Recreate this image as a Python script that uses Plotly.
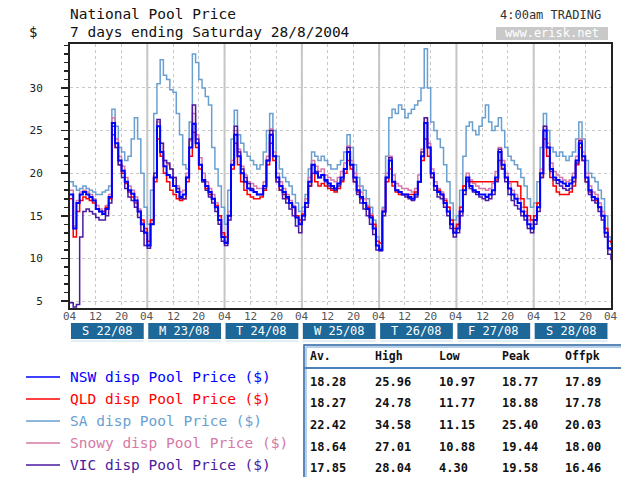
import plotly.graph_objects as go

# ---------------- data ----------------
day_labels = ["S 22/08", "M 23/08", "T 24/08", "W 25/08", "T 26/08", "F 27/08", "S 28/08"]
hour_ticks = ["04", "12", "20"]
y_ticks = [5, 10, 15, 20, 25, 30]
series_names = ["NSW disp Pool Price ($)", "QLD disp Pool Price ($)", "SA disp Pool Price ($)",
                "Snowy disp Pool Price ($)", "VIC disp Pool Price ($)"]
series_colors = ["#0000ff", "#ff0000", "#6a9fd0", "#d47aa6", "#4a1aa0"]

# hourly prices from Sun 22/08 04:00 to Sun 29/08 04:00
nsw = [17.5, 13.5, 16.5, 17.5, 17.8, 17.5, 17.2, 16.8, 15.8, 15.5, 15.2, 15.8, 17.2, 25.9, 23.5, 21.5, 20.3, 19.0, 18.0, 17.6, 16.8, 15.5, 14.0, 13.0,
       11.5, 14.0, 19.5, 25.5, 22.5, 20.8, 19.8, 19.5, 18.5, 17.8, 17.2, 17.5, 19.5, 23.0, 25.8, 23.5, 21.0, 19.2, 18.5, 17.8, 17.0, 16.0, 14.5, 12.5,
       11.8, 15.0, 21.0, 24.5, 22.0, 20.0, 19.0, 18.2, 18.0, 17.8, 17.5, 17.5, 18.5, 21.5, 24.5, 22.0, 19.5, 18.5, 17.8, 17.2, 16.5, 16.0, 14.8, 14.0,
       15.0, 16.5, 19.0, 21.0, 20.0, 19.5, 19.8, 19.2, 18.8, 18.5, 18.2, 18.8, 19.5, 20.5, 22.5, 21.0, 19.5, 18.0, 17.2, 16.5, 15.8, 14.8, 13.5, 11.5,
       11.0, 15.5, 19.5, 21.5, 19.0, 18.0, 17.8, 17.5, 17.5, 17.2, 17.0, 17.5, 19.0, 22.0, 25.9, 23.0, 20.0, 18.5, 17.8, 17.5, 16.5, 15.5, 14.0, 13.0,
       13.5, 15.5, 18.0, 19.5, 18.5, 18.0, 17.8, 17.5, 17.5, 17.2, 17.5, 18.0, 19.5, 22.5, 21.0, 19.5, 18.2, 17.5, 17.0, 16.5, 15.5, 15.0, 14.0, 13.5,
       14.5, 16.0, 20.0, 25.0, 23.0, 20.5, 19.5, 19.2, 19.0, 18.8, 18.5, 18.8, 19.5, 21.5, 23.5, 22.0, 19.5, 18.0, 17.2, 17.0, 16.0, 15.0, 13.0, 11.2,
       11.0]
qld = [17.0, 12.5, 15.5, 16.8, 17.2, 17.0, 16.8, 16.5, 15.8, 15.5, 15.5, 16.0, 17.0, 24.5, 23.0, 21.0, 20.0, 18.8, 17.8, 17.2, 16.5, 15.5, 14.5, 13.5,
       12.0, 14.5, 19.0, 24.0, 22.0, 20.0, 19.0, 18.0, 17.5, 17.0, 16.8, 17.0, 19.0, 22.0, 24.8, 23.0, 20.5, 19.0, 18.2, 17.5, 17.0, 16.2, 15.0, 13.0,
       12.5, 15.0, 20.5, 23.5, 21.0, 19.0, 18.0, 17.5, 17.2, 17.0, 17.0, 17.2, 18.0, 21.0, 23.5, 21.5, 19.0, 18.0, 17.5, 17.0, 16.5, 16.0, 15.0, 14.5,
       15.2, 16.5, 18.5, 20.0, 19.0, 18.5, 18.8, 18.5, 18.2, 18.0, 17.8, 18.2, 19.0, 20.0, 21.5, 20.5, 19.0, 17.8, 17.0, 16.5, 16.0, 15.0, 14.0, 12.0,
       11.8, 15.5, 19.0, 20.5, 18.5, 17.8, 17.5, 17.5, 17.5, 17.5, 17.5, 17.8, 19.0, 21.5, 24.0, 22.0, 19.5, 18.5, 18.0, 17.5, 16.8, 16.0, 14.5, 13.5,
       14.0, 16.0, 18.5, 19.0, 19.0, 19.0, 19.0, 19.0, 19.0, 19.0, 19.0, 19.0, 19.2, 21.5, 20.5, 19.5, 19.0, 19.0, 19.0, 18.5, 17.0, 16.0, 15.0, 14.5,
       15.0, 16.5, 19.5, 24.0, 22.0, 19.5, 18.5, 17.8, 17.5, 17.5, 17.5, 17.8, 18.5, 21.0, 23.0, 21.5, 19.0, 17.8, 17.2, 16.8, 16.0, 15.0, 13.5, 12.0,
       11.8]
sa = [19.0, 18.5, 18.0, 18.2, 18.5, 18.2, 18.0, 17.8, 17.5, 17.5, 17.8, 18.0, 18.5, 27.5, 25.5, 23.0, 22.5, 21.5, 22.0, 24.0, 26.5, 24.0, 20.0, 16.0,
      14.0, 18.0, 27.0, 30.5, 33.3, 31.5, 31.0, 29.8, 29.5, 27.0, 24.5, 21.0, 20.5, 26.0, 34.0, 33.0, 31.0, 30.0, 29.0, 28.0, 23.0, 20.5, 18.5, 16.0,
      14.0, 18.0, 24.0, 27.4, 24.5, 23.5, 22.5, 22.0, 21.5, 21.0, 20.5, 21.0, 22.5, 25.0, 27.0, 25.0, 22.0, 20.5, 19.5, 19.0, 18.5, 17.5, 16.5, 15.5,
      16.0, 17.5, 20.5, 22.5, 22.0, 21.5, 22.0, 21.5, 21.0, 20.5, 20.5, 21.0, 21.5, 22.5, 24.5, 23.0, 21.0, 19.5, 18.5, 18.0, 17.0, 16.0, 14.5, 12.5,
      11.2, 16.0, 22.0, 26.5, 27.5, 27.0, 28.0, 27.5, 26.5, 27.0, 27.5, 28.0, 28.5, 30.0, 34.6, 30.0, 26.0, 25.0, 24.0, 23.0, 21.0, 19.0, 16.5, 14.5,
      15.0, 18.0, 22.0, 25.5, 26.0, 25.0, 24.5, 25.5, 26.5, 28.0, 26.0, 25.0, 25.5, 26.5, 25.0, 23.0, 22.0, 21.5, 21.0, 20.5, 19.5, 18.5, 17.0, 16.0,
      16.5, 19.0, 23.0, 27.0, 25.0, 23.0, 22.5, 22.0, 22.5, 22.0, 21.5, 22.0, 22.5, 24.0, 26.0, 24.0, 21.5, 20.0, 19.5, 19.0, 18.0, 17.0, 15.0, 12.5,
      11.5]
snowy = [18.0, 13.8, 16.8, 17.8, 18.0, 17.8, 17.5, 17.0, 16.2, 15.8, 15.5, 16.2, 17.5, 26.5, 24.0, 22.0, 20.8, 19.5, 18.5, 18.0, 17.2, 15.8, 14.2, 13.2,
         11.5, 14.5, 20.0, 26.0, 23.5, 21.5, 21.0, 20.5, 19.5, 18.5, 17.8, 18.0, 20.0, 23.8, 27.0, 24.5, 21.8, 20.0, 19.0, 18.2, 17.5, 16.5, 15.0, 12.8,
         12.0, 15.5, 21.5, 25.0, 22.8, 20.8, 19.8, 19.0, 18.8, 18.5, 18.2, 18.2, 19.0, 22.0, 25.2, 22.5, 20.0, 19.0, 18.2, 17.5, 16.8, 16.2, 15.0, 14.2,
         15.5, 17.0, 19.5, 21.5, 20.8, 20.2, 20.5, 19.8, 19.5, 19.2, 19.0, 19.5, 20.2, 21.2, 23.2, 21.5, 20.0, 18.5, 17.8, 17.0, 16.2, 15.2, 13.8, 11.5,
         10.9, 15.8, 20.0, 22.0, 19.8, 18.8, 18.5, 18.2, 18.2, 18.0, 17.8, 18.2, 19.8, 22.8, 26.5, 23.5, 20.5, 19.0, 18.2, 17.8, 17.0, 16.0, 14.5, 13.2,
         13.8, 16.0, 18.5, 20.0, 19.2, 18.8, 18.5, 18.2, 18.2, 18.0, 18.2, 18.8, 20.2, 23.0, 21.5, 20.0, 18.8, 18.0, 17.5, 17.0, 16.0, 15.5, 14.5, 14.0,
         15.0, 16.5, 20.5, 25.5, 23.5, 21.2, 20.2, 19.8, 19.5, 19.2, 19.0, 19.2, 20.0, 22.0, 24.0, 22.5, 20.0, 18.5, 17.8, 17.5, 16.5, 15.5, 13.5, 11.0,
         10.9]
vic = [4.8, 4.3, 4.6, 12.5, 15.5, 15.8, 15.5, 15.2, 14.8, 14.5, 14.5, 15.0, 16.5, 25.5, 23.0, 21.0, 19.5, 18.2, 17.2, 16.8, 16.0, 14.8, 13.2, 11.5,
       11.2, 14.0, 20.0, 26.3, 23.5, 21.5, 21.2, 20.5, 19.5, 18.2, 17.0, 17.0, 19.5, 24.0, 28.0, 24.0, 21.0, 19.0, 18.0, 17.2, 16.5, 15.5, 14.0, 12.0,
       11.5, 14.5, 21.0, 25.5, 22.5, 20.5, 19.5, 18.8, 18.2, 17.8, 17.5, 17.5, 18.2, 21.5, 25.0, 22.0, 19.0, 18.0, 17.0, 16.5, 15.8, 15.0, 13.8, 13.0,
       14.5, 16.0, 18.5, 21.0, 20.2, 19.5, 19.8, 19.0, 18.5, 18.2, 18.0, 18.5, 19.2, 20.5, 23.0, 21.0, 19.0, 17.5, 16.5, 15.8, 15.0, 14.0, 12.8, 11.0,
       10.9, 15.0, 19.5, 21.8, 19.0, 18.0, 17.8, 17.5, 17.2, 17.0, 16.8, 17.2, 19.0, 22.5, 26.5, 23.0, 19.5, 18.0, 17.2, 17.0, 16.0, 15.0, 13.5, 12.5,
       13.0, 15.0, 17.5, 19.2, 18.2, 17.8, 17.5, 17.2, 17.0, 16.8, 17.0, 17.5, 19.0, 22.8, 20.5, 19.0, 17.5, 16.8, 16.2, 15.8, 15.0, 14.5, 13.5, 13.0,
       14.0, 15.5, 19.5, 25.5, 23.0, 20.2, 19.2, 18.8, 18.5, 18.2, 18.0, 18.2, 19.0, 21.2, 23.8, 21.5, 19.0, 17.5, 16.8, 16.5, 15.5, 14.5, 12.5, 10.5,
       9.8]

stats_header = ["Av.", "High", "Low", "Peak", "Offpk"]
nsw_stats = ["18.28", "25.96", "10.97", "18.77", "17.89"]
qld_stats = ["18.27", "24.78", "11.77", "18.88", "17.78"]
sa_stats = ["22.42", "34.58", "11.15", "25.40", "20.03"]
snowy_stats = ["18.64", "27.01", "10.88", "19.44", "18.00"]
vic_stats = ["17.85", "28.04", "4.30", "19.58", "16.46"]

# ---------------- layout geometry ----------------
W, H = 621, 477
L, R, T, B = 70, 611, 44, 308
FONT = "DejaVu Sans Mono"


def px(x):
    return (x - L) / (R - L)


def py(y):
    return (B - y) / (B - T)


fig = go.Figure()
all_series = [nsw, qld, sa, snowy, vic]
draw_order = [2, 3, 1, 4, 0]
for i in draw_order:
    vals = all_series[i]
    fig.add_trace(go.Scatter(
        x=list(range(len(vals))), y=vals, mode="lines", name=series_names[i],
        line=dict(color=series_colors[i], width=2 if i == 0 else 1.5, shape="hv"),
        showlegend=False, hoverinfo="skip"))

n_days = len(day_labels)
tickvals = list(range(0, n_days * 24 + 1, 8))
ticktext = [hour_ticks[k % 3] for k in range(len(tickvals))]

shapes = []
annotations = []
# x tick labels (hour of day)
for tv, tt in zip(tickvals, ticktext):
    annotations.append(dict(xref="x", yref="paper", x=tv, y=py(316), text=tt, showarrow=False,
                            font=dict(family=FONT, size=11, color="#555"),
                            xanchor="center", yanchor="middle"))
# solid day-boundary grid lines
for d in range(1, n_days):
    shapes.append(dict(type="line", xref="x", yref="paper", x0=d * 24, x1=d * 24, y0=0, y1=1,
                       line=dict(color="#c4c4c4", width=2), layer="below"))
# day label boxes
for d, lab in enumerate(day_labels):
    shapes.append(dict(type="rect", xref="x", yref="paper", x0=d * 24 + 0.3, x1=d * 24 + 22.9,
                       y0=py(339), y1=py(323), fillcolor="#1d6898", line=dict(width=0)))
    shapes.append(dict(type="line", xref="x", yref="paper", x0=d * 24 + 0.3, x1=d * 24 + 22.9,
                       y0=py(341), y1=py(341), line=dict(color="#c8dcec", width=1)))
    annotations.append(dict(xref="x", yref="paper", x=d * 24 + 11.6, y=py(331), text=lab,
                            showarrow=False, font=dict(family=FONT, size=12, color="white"),
                            xanchor="center", yanchor="middle"))

# titles
annotations += [
    dict(xref="paper", yref="paper", x=px(68), y=py(14), text="National Pool Price", showarrow=False,
         font=dict(family=FONT, size=14.5, color="#111"), xanchor="left", yanchor="middle"),
    dict(xref="paper", yref="paper", x=px(68), y=py(32), text="7 days ending Saturday 28/8/2004",
         showarrow=False, font=dict(family=FONT, size=14.5, color="#111"), xanchor="left", yanchor="middle"),
    dict(xref="paper", yref="paper", x=px(33), y=py(32), text="$", showarrow=False,
         font=dict(family=FONT, size=14, color="#111"), xanchor="center", yanchor="middle"),
    dict(xref="paper", yref="paper", x=px(603), y=py(15), text="4:00am TRADING", showarrow=False,
         font=dict(family=FONT, size=12, color="#333"), xanchor="right", yanchor="middle"),
    dict(xref="paper", yref="paper", x=px(552), y=py(33.5), text="www.erisk.net", showarrow=False,
         font=dict(family=FONT, size=12, color="white"), xanchor="center", yanchor="middle"),
]
shapes.append(dict(type="rect", xref="paper", yref="paper", x0=px(496), x1=px(608), y0=py(40), y1=py(27),
                   fillcolor="#c9c9c9", line=dict(width=0)))

# legend
legend_rows = [377, 399, 421, 443, 465]
for i, name in enumerate(series_names):
    shapes.append(dict(type="line", xref="paper", yref="paper", x0=px(26), x1=px(60),
                       y0=py(legend_rows[i]), y1=py(legend_rows[i]),
                       line=dict(color=series_colors[i], width=1.5)))
    annotations.append(dict(xref="paper", yref="paper", x=px(68), y=py(legend_rows[i]), text=name,
                            showarrow=False, font=dict(family=FONT, size=14.5, color=series_colors[i]),
                            xanchor="left", yanchor="middle"))

# stats table
shapes.append(dict(type="rect", xref="paper", yref="paper", x0=px(304), x1=px(625), y0=py(482), y1=py(345),
                   line=dict(color="#2a62a0", width=1.5)))
shapes.append(dict(type="line", xref="paper", yref="paper", x0=px(306), x1=px(306), y0=py(477), y1=py(347),
                   line=dict(color="#9cc0e0", width=1.5)))
shapes.append(dict(type="line", xref="paper", yref="paper", x0=px(306), x1=px(621), y0=py(347), y1=py(347),
                   line=dict(color="#9cc0e0", width=1.5)))
shapes.append(dict(type="line", xref="paper", yref="paper", x0=px(304), x1=px(621), y0=py(368), y1=py(368),
                   line=dict(color="#4a82b8", width=2)))
col_x = [308, 373, 437, 500, 563]
for j, h in enumerate(stats_header):
    annotations.append(dict(xref="paper", yref="paper", x=px(col_x[j]), y=py(356), text="<b>%s</b>" % h,
                            showarrow=False, font=dict(family=FONT, size=11.5, color="#111"),
                            xanchor="left", yanchor="middle"))
table_rows = [382, 403, 425, 447, 468]
for i, row in enumerate([nsw_stats, qld_stats, sa_stats, snowy_stats, vic_stats]):
    for j, v in enumerate(row):
        annotations.append(dict(xref="paper", yref="paper", x=px(col_x[j]), y=py(table_rows[i]),
                                text="<b>%s</b>" % v, showarrow=False,
                                font=dict(family=FONT, size=12, color="#111"),
                                xanchor="left", yanchor="middle"))

fig.update_layout(
    width=W, height=H,
    margin=dict(l=L, r=W - R, t=T, b=H - B, pad=0),
    paper_bgcolor="white", plot_bgcolor="white",
    shapes=shapes, annotations=annotations,
    showlegend=False,
    xaxis=dict(range=[0, n_days * 24], tickvals=tickvals, ticktext=ticktext, showticklabels=False,
               showgrid=True, gridcolor="#c8c8c8", griddash="dot", gridwidth=1, zeroline=False,
               showline=True, linecolor="#222", linewidth=2, mirror=True, ticks="", automargin=False),
    yaxis=dict(range=[4.18, 35.16], tickvals=y_ticks, showgrid=True, gridcolor="#c8c8c8",
               griddash="dot", gridwidth=1, zeroline=False, showline=True, linecolor="#222",
               linewidth=2, mirror=True, ticks="outside", ticklen=7, tickcolor="#222", tickwidth=1.5,
               minor=dict(dtick=1, tick0=0, ticks="outside", ticklen=4, tickcolor="#222", showgrid=False),
               ticklabelstandoff=16,
               tickfont=dict(family=FONT, size=11, color="#222"), automargin=False),
)

fig.write_html("out.html", config={"displayModeBar": False, "staticPlot": True},
               post_script="document.body.style.margin='0';document.body.style.overflow='hidden';")
